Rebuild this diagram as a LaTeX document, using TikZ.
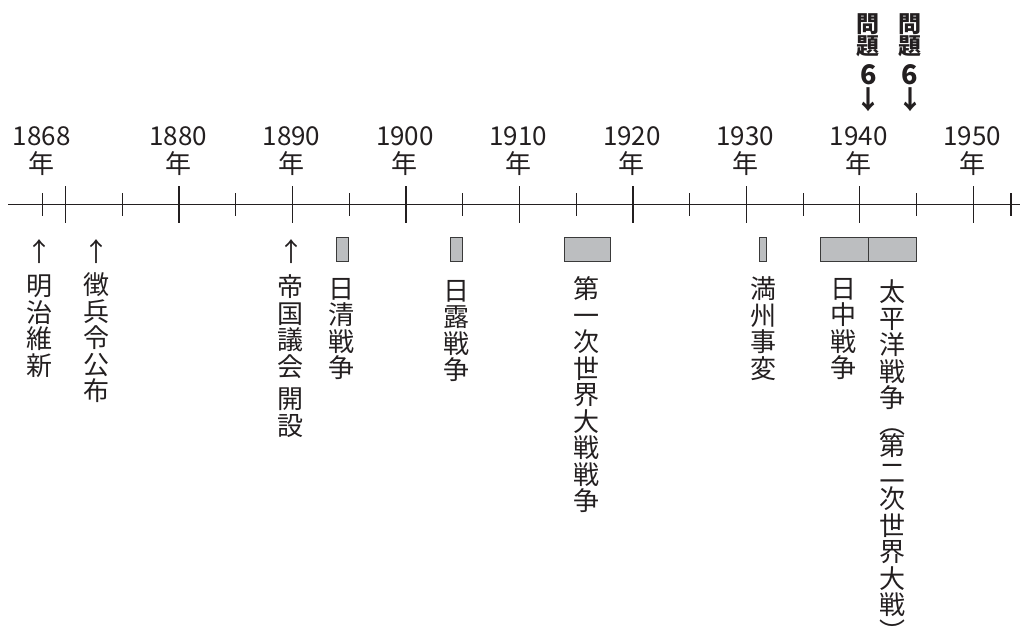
\documentclass[tikz,border=0pt]{standalone}
\usepackage{fontspec}
\setmainfont{Noto Sans CJK JP}
\definecolor{ink}{HTML}{231F20}
\definecolor{barfill}{HTML}{BCBEC0}
\definecolor{barline}{HTML}{3A3A3A}
\begin{document}
\begin{tikzpicture}[x=1pt,y=-1pt,
  every node/.style={inner sep=0pt, outer sep=0pt, text=ink},
  yearlbl/.style={font=\fontsize{26}{26}\selectfont, anchor=north},
  vlabel/.style={font=\fontsize{26}{26.5}\selectfont, align=center, anchor=north},
  arrowlbl/.style={font=\fontsize{26}{26}\selectfont, anchor=north},
  qlbl/.style={font=\bfseries\fontsize{23}{22.5}\selectfont, align=center, anchor=north},
  qnum/.style={font=\bfseries\fontsize{27}{27}\selectfont, anchor=north},
  qarrow/.style={font=\bfseries\fontsize{26}{26}\selectfont, anchor=north},
  bar/.style={draw=barline, fill=barfill, line width=0.9pt},
  axis/.style={draw=ink, line width=1.2pt},
  majortick/.style={draw=ink, line width=1.3pt},
  minortick/.style={draw=ink, line width=1.1pt},
]
\useasboundingbox (0,0) rectangle (1026,629);
\clip (0,0) rectangle (1026,629);

% timeline
\coordinate (tlL) at (8,204.5);
\coordinate (tlR) at (1020,204.5);
\draw[axis] (tlL) -- (tlR);

% ticks
\foreach \yr in {1870,1880,...,1950}{
  \pgfmathsetmacro{\xx}{179+(\yr-1880)*11.347}
  \draw[majortick] (\xx,186) -- (\xx,223);
}
\foreach \yr in {1868,1875,1885,1895,1905,1915,1925,1935,1945}{
  \pgfmathsetmacro{\xx}{179+(\yr-1880)*11.347}
  \draw[minortick] (\xx,193) -- (\xx,216);
}
\draw[minortick] (1011,193) -- (1011,216);

% year labels
\foreach \yr in {1868,1880,1890,1900,1910,1920,1930,1940,1950}{
  \pgfmathsetmacro{\xx}{179+(\yr-1880)*11.347-1}
  \node[yearlbl] (y\yr) at (\xx,126.7) {\yr};
  \node[yearlbl] (n\yr) at (\xx,151.7) {年};
}

% question markers
\node[qlbl] (q1) at (868.3,13.3) {問\\題};
\node[qnum] (q1n) at (868.3,65) {6};
\node[qarrow] (q1a) at (868.3,88) {↓};
\node[qlbl] (q2) at (910,13.3) {問\\題};
\node[qnum] (q2n) at (910,65) {6};
\node[qarrow] (q2a) at (910,88) {↓};

% bars
\draw[bar] (336.7,237.7) rectangle (348.3,261);
\draw[bar] (450.7,237.7) rectangle (462.7,261);
\draw[bar] (564,237.7) rectangle (610,261);
\draw[bar] (759.3,237.7) rectangle (766.3,261);
\draw[bar] (820.7,237.7) rectangle (868.7,261);
\draw[bar] (868.7,237.7) rectangle (916.7,261);

% arrows up
\node[arrowlbl] (a1) at (39.8,240) {↑};
\node[arrowlbl] (a2) at (96.7,240) {↑};
\node[arrowlbl] (a3) at (291.5,240) {↑};

% vertical labels
\node[vlabel] (l1) at (40,275) {明\\治\\維\\新};
\node[vlabel] (l2) at (96.7,273) {徴\\兵\\令\\公\\布};
\node[vlabel] (l3) at (290.8,275) {帝\\国\\議\\会\\[5.7pt]開\\設};
\node[vlabel] (l4) at (341.7,278) {日\\清\\戦\\争};
\node[vlabel] (l5) at (456.7,280) {日\\露\\戦\\争};
\node[vlabel] (l6) at (586.3,276.7) {第\\一\\次\\世\\界\\大\\戦\\戦\\争};
\node[vlabel] (l7) at (763,276.7) {満\\州\\事\\変};
\node[vlabel] (l8) at (843.3,278.3) {日\\中\\戦\\争};
\node[vlabel] (l9) at (892.5,280) {太\\平\\洋\\戦\\争};
\node[vlabel, anchor=south] (p1) at (892.5,435) {︵};
\node[vlabel] (l10) at (892.5,434) {第\\二\\次\\世\\界\\大\\戦};
\node[vlabel] (p2) at (892.5,620) {︶};
\end{tikzpicture}
\end{document}
